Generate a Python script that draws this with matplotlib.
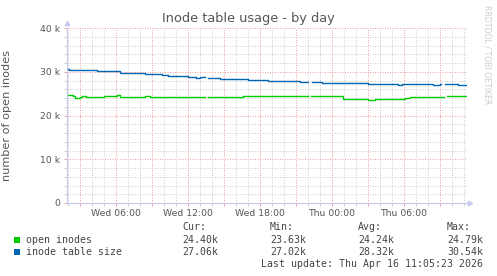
import numpy as np
import matplotlib
matplotlib.use("Agg")
import matplotlib.pyplot as plt
from matplotlib.patches import Rectangle
from matplotlib.ticker import MultipleLocator, FixedLocator

# ---- data (hours since Wed 00:00, values in thousands) ----
blue_t = [1.92, 2.08, 4.42, 6.33, 8.42, 9.83, 10.33, 10.92, 11.33, 12.0, 12.67, 13.0,
          13.42, 13.67, 14.67, 17.0, 18.67, 21.33, 22.0, 22.33, 22.5, 22.83, 23.17,
          23.5, 27.0, 29.5, 29.83, 32.42, 33.0, 33.08, 33.42, 34.5, 34.83, 35.25]
blue_v = [30.54, 30.35, 30.10, 29.75, 29.45, 29.20, 29.00, 29.10, 29.00, 28.80, 28.65, 28.80,
          np.nan, 28.55, 28.30, 28.05, 27.80, 27.60, np.nan, 27.60, 27.70, 27.60, 27.40,
          27.35, 27.12, 27.02, 27.12, 27.02, 27.12, np.nan, 27.10, 27.02, 27.06, 27.06]

green_t = [1.92, 2.42, 2.58, 3.0, 3.17, 3.5, 5.0, 6.08, 6.33, 8.42, 8.83, 13.42, 13.67,
           16.58, 22.0, 22.25, 24.92, 27.0, 27.58, 30.08, 30.5, 33.33, 33.58, 35.25]
green_v = [24.75, 24.40, 23.90, 24.20, 24.45, 24.25, 24.40, 24.70, 24.25, 24.45, 24.25,
           np.nan, 24.25, 24.45, np.nan, 24.45, 23.77, 23.63, 23.77, 24.00, 24.25, np.nan,
           24.45, 24.40]

x_tick_pos = [6, 12, 18, 24, 30]
x_tick_labels = ["Wed 06:00", "Wed 12:00", "Wed 18:00", "Thu 00:00", "Thu 06:00"]
y_tick_pos = [0, 10, 20, 30, 40]
y_tick_labels = ["0", "10 k", "20 k", "30 k", "40 k"]

series_names = ["open inodes", "inode table size"]
series_colors = ["#00cc00", "#0066b3"]
cur_vals = ["24.40k", "27.06k"]
min_vals = ["23.63k", "27.02k"]
avg_vals = ["24.24k", "28.32k"]
max_vals = ["24.79k", "30.54k"]

W, H = 497, 276
fig = plt.figure(figsize=(W / 100, H / 100), dpi=100)
fig.patch.set_facecolor("white")

def fx(px):
    return px / W

def fy(py):
    return 1 - py / H

left, right, top, bottom = 67, 467, 28, 203
ax = fig.add_axes([fx(left), fy(bottom), (right - left) / W, (bottom - top) / H])
ax.set_facecolor("white")
ax.set_xlim(1.917, 35.25)
ax.set_ylim(0, 40)

txt = "#555555"
minor_col = "#cfcfcf"
major_col = "#eea0a0"

# grid
ax.xaxis.set_minor_locator(MultipleLocator(1))
ax.yaxis.set_minor_locator(MultipleLocator(2))
ax.xaxis.set_major_locator(MultipleLocator(3))
ax.yaxis.set_major_locator(FixedLocator(y_tick_pos))
ax.grid(which="minor", color=minor_col, linestyle=(0, (1, 1.5)), linewidth=0.72)
ax.grid(which="major", color=major_col, linestyle=(0, (1, 1.5)), linewidth=0.72)
ax.set_axisbelow(True)

major_x = np.arange(3, 35, 3)
labels = [x_tick_labels[x_tick_pos.index(v)] if v in x_tick_pos else "" for v in major_x]
ax.set_xticks(major_x)
ax.set_xticklabels(labels)
ax.set_yticklabels(y_tick_labels)
ax.tick_params(axis="both", which="major", colors=major_col, labelcolor=txt,
               labelsize=6.7, length=2.5, width=0.72)
ax.tick_params(axis="y", which="major", pad=2.5)
ax.tick_params(axis="x", which="major", pad=1.5)
ax.tick_params(axis="both", which="minor", colors=minor_col, length=2, width=0.72)

for s in ["top", "right"]:
    ax.spines[s].set_visible(False)
for s in ["left", "bottom"]:
    ax.spines[s].set_color("#c8c8f4")
    ax.spines[s].set_linewidth(0.9)

ax.plot([0], [1.03], marker="^", color="#c8c8f4", markersize=3.2, transform=ax.transAxes, clip_on=False)
ax.plot([1.007], [0], marker=">", color="#c8c8f4", markersize=3.2, transform=ax.transAxes, clip_on=False)

ax.plot(green_t, green_v, drawstyle="steps-post", color=series_colors[0], linewidth=1.0)
ax.plot(blue_t, blue_v, drawstyle="steps-post", color=series_colors[1], linewidth=1.0)

ax.set_ylabel("number of open inodes", fontsize=8.1, color=txt)
ax.yaxis.set_label_coords((12 - left) / (right - left), 0.5)

fig.text(fx(248), fy(18.5), "Inode table usage - by day", ha="center", va="center",
         fontsize=9.3, color=txt)
fig.text(fx(487), fy(5), "RRDTOOL / TOBI OETIKER", rotation=270, ha="center", va="top",
         fontsize=5.6, color="#cccccc")

mono = "DejaVu Sans Mono"
fs = 7.1
lc = "#444444"
fig.text(fx(182), fy(227), "Cur:", family=mono, fontsize=fs, color=lc, va="center")
fig.text(fx(270), fy(227), "Min:", family=mono, fontsize=fs, color=lc, va="center")
fig.text(fx(358), fy(227), "Avg:", family=mono, fontsize=fs, color=lc, va="center")
fig.text(fx(447), fy(227), "Max:", family=mono, fontsize=fs, color=lc, va="center")
rows_y = [240, 252]
for i in range(2):
    y = rows_y[i]
    fig.patches.append(Rectangle((fx(14), fy(y + 3)), 6 / W, 6 / H, transform=fig.transFigure,
                                 facecolor=series_colors[i], edgecolor="none"))
    fig.text(fx(26), fy(y), series_names[i], family=mono, fontsize=fs, color=lc, va="center")
    fig.text(fx(182), fy(y), cur_vals[i], family=mono, fontsize=fs, color=lc, va="center")
    fig.text(fx(270), fy(y), min_vals[i], family=mono, fontsize=fs, color=lc, va="center")
    fig.text(fx(358), fy(y), avg_vals[i], family=mono, fontsize=fs, color=lc, va="center")
    fig.text(fx(447), fy(y), max_vals[i], family=mono, fontsize=fs, color=lc, va="center")
fig.text(fx(483), fy(264), "Last update: Thu Apr 16 11:05:23 2026", family=mono, fontsize=fs,
         color=lc, va="center", ha="right")

fig.savefig("out.png", dpi=100, facecolor="white")
